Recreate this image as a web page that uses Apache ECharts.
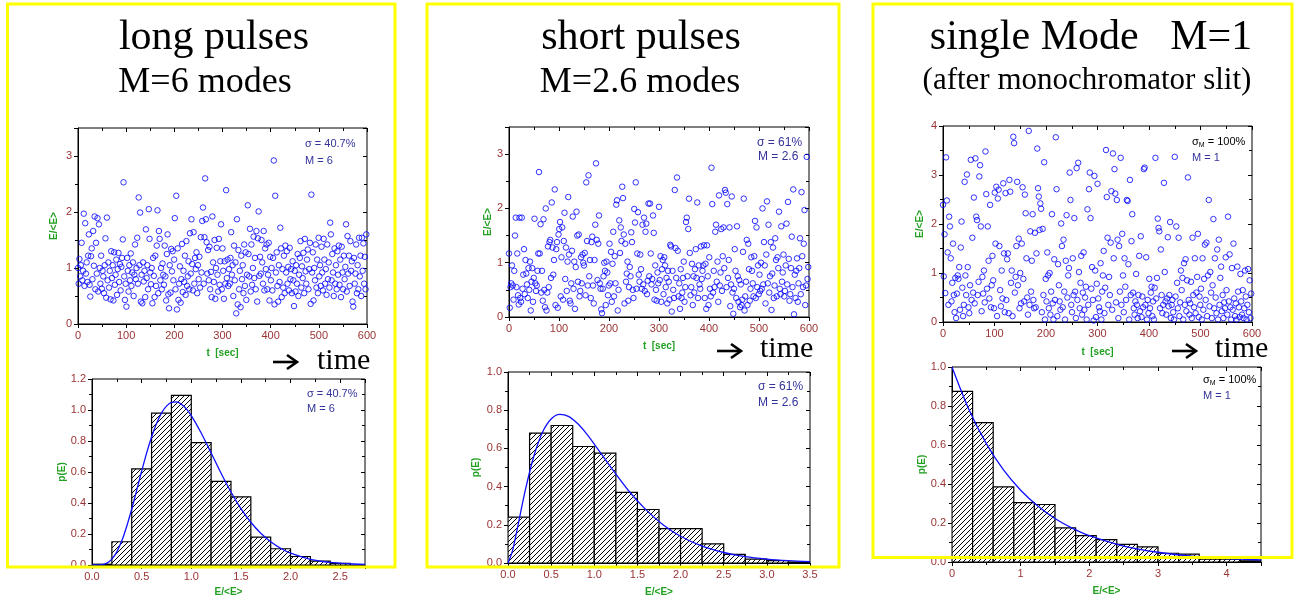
<!DOCTYPE html>
<html><head><meta charset="utf-8">
<script src="https://cdn.jsdelivr.net/npm/echarts@6/dist/echarts.min.js"></script>
<style>html,body{margin:0;padding:0;background:#fff}#c{width:1296px;height:602px}</style>
</head><body><div id="c"></div><script>
// ---------------- DATA ----------------
const sampleStep = 1.5; // seconds between plotted pulses
const longE = [
1.0,0.72,1.16,0.85,1.05,1.45,0.78,0.95,1.97,0.68,1.8,0.9,1.1,0.75,1.22,1.6,0.7,0.49,1.21,1.35,
0.8,1.66,1.04,1.92,0.62,1.45,0.9,1.89,0.58,1.78,1.0,0.72,1.22,0.63,0.95,0.85,0.55,1.05,1.53,0.47,
1.9,0.78,1.1,0.65,0.95,0.44,1.3,0.82,1.05,0.42,1.28,0.7,0.88,1.15,0.52,0.98,1.27,0.75,1.07,0.6,
1.02,1.18,1.51,2.53,0.85,0.43,0.72,0.31,1.18,0.95,0.58,1.05,0.78,1.26,0.68,0.92,1.1,0.5,0.88,1.42,
0.8,1.0,1.54,0.72,2.26,1.05,1.99,0.4,0.88,0.37,1.1,0.76,0.95,0.48,1.69,0.82,1.05,0.62,2.05,1.52,
0.92,0.71,1.0,0.37,1.18,0.86,0.48,1.22,0.68,1.4,2.03,0.55,1.66,1.52,0.78,1.0,0.62,1.08,0.88,0.7,
1.4,0.85,0.42,1.25,1.6,0.53,0.28,1.05,0.56,1.34,0.94,1.3,0.78,1.15,1.89,0.62,2.29,0.26,1.35,0.43,
0.72,1.03,0.38,0.8,1.43,0.57,0.95,0.75,1.22,0.52,1.48,0.68,0.85,1.12,0.62,1.62,0.9,1.87,1.07,0.6,
1.64,0.72,1.18,0.98,1.28,0.55,1.05,0.8,1.2,0.65,1.55,0.92,1.84,2.08,0.72,1.55,2.6,1.87,1.46,0.9,
1.32,0.78,1.38,0.62,0.93,0.48,1.92,1.1,0.75,1.5,0.45,1.0,1.36,0.88,0.58,1.52,0.7,1.12,1.78,0.62,
1.35,0.95,0.45,1.12,0.72,2.39,0.82,1.15,0.68,0.98,0.72,1.18,1.64,0.88,1.05,0.5,1.4,0.78,1.1,0.19,
1.87,0.35,1.32,0.62,0.95,0.3,1.22,0.8,1.05,0.55,1.42,0.68,1.28,0.43,0.88,2.12,1.25,0.85,1.7,0.58,
1.42,0.7,1.0,1.56,0.82,1.18,0.62,1.66,0.4,1.53,2.01,0.86,1.2,0.9,1.5,1.1,0.72,1.66,0.6,1.35,
0.98,1.42,0.62,0.88,1.45,0.42,1.2,0.78,1.0,0.6,1.18,2.92,0.35,2.29,0.92,1.28,0.68,0.4,1.05,0.75,
1.72,1.35,0.48,0.98,0.65,1.22,0.55,1.4,0.92,1.3,0.72,1.02,0.6,1.36,0.8,0.98,0.55,1.12,0.78,0.32,
0.95,0.58,1.05,0.72,1.25,0.5,0.88,1.18,1.48,0.65,1.03,0.82,1.27,0.55,1.52,0.94,0.72,1.15,1.33,0.62,
0.98,1.45,0.36,2.31,0.92,1.28,0.42,1.0,0.78,1.42,0.65,1.15,0.55,1.54,0.85,1.05,0.68,1.38,0.92,0.6,
1.52,1.15,0.72,0.98,0.52,1.42,0.8,1.1,0.65,1.81,1.6,0.78,1.25,0.92,0.5,1.35,0.72,1.05,0.62,1.3,
0.88,1.4,0.7,1.15,0.48,1.38,0.92,0.62,1.22,0.8,1.02,1.78,0.58,1.57,0.9,1.22,0.68,1.48,0.95,1.12,
0.4,0.31,1.18,0.72,0.9,1.42,0.55,1.05,0.62,1.54,0.85,1.22,0.5,1.54,0.95,1.44,0.72,1.2,0.62,1.6];
const shortE = [
1.17,0.17,0.55,0.62,0.95,0.58,0.32,0.85,1.5,1.83,0.55,1.17,0.4,0.23,1.83,0.35,0.28,1.83,0.52,0.78,
1.25,0.42,1.05,0.8,0.6,0.35,0.9,0.5,1.02,0.12,0.65,0.9,0.28,0.72,1.81,0.62,0.48,0.58,0.85,1.17,
2.67,1.17,1.71,0.45,0.85,0.3,1.8,0.5,0.18,2.0,0.12,0.45,1.3,0.55,1.38,1.42,0.72,2.11,1.28,0.78,
1.05,2.35,0.22,1.25,1.38,0.17,1.52,1.62,1.75,0.38,1.1,1.65,0.32,1.4,1.92,0.7,1.28,0.48,1.02,2.21,
1.15,0.3,0.25,0.62,1.22,1.85,0.52,1.02,0.15,0.92,1.94,1.5,0.65,1.52,0.38,0.48,1.1,0.62,1.15,1.0,
0.95,1.18,0.4,2.48,1.4,0.58,2.61,0.75,1.05,0.35,1.38,1.48,0.58,0.25,1.05,1.7,2.83,1.42,0.68,1.35,
1.87,0.62,0.52,0.14,0.07,0.52,0.75,1.0,0.85,0.22,1.02,0.82,0.4,0.58,1.35,0.62,1.2,0.28,0.98,1.57,
0.38,1.12,0.62,2.07,2.15,0.12,0.5,1.78,1.18,1.65,1.4,2.4,2.19,1.52,0.25,1.35,0.65,0.8,1.02,0.3,
0.55,0.92,0.75,1.56,1.38,0.5,0.35,1.99,1.74,2.48,0.52,1.17,1.93,0.78,0.65,1.15,0.88,0.52,1.7,0.6,
1.83,0.48,1.57,1.72,0.42,0.67,2.09,0.75,2.09,1.17,0.6,0.7,1.87,1.55,0.32,0.95,0.5,0.3,0.82,0.62,
2.03,0.68,1.12,0.28,0.88,1.05,0.42,1.1,0.95,0.55,0.72,0.25,0.85,0.65,0.32,1.33,1.3,0.1,0.85,0.5,
0.35,2.34,1.27,0.72,2.57,1.22,0.38,0.62,0.15,0.88,0.35,0.45,0.72,1.02,0.28,0.55,1.75,1.83,0.75,1.62,
2.18,1.18,0.4,0.55,0.98,0.22,0.75,0.45,0.88,1.25,0.72,2.11,0.35,0.95,0.6,0.52,1.3,0.7,0.85,0.95,
1.32,0.35,0.98,0.15,1.32,0.75,0.22,1.1,0.52,0.38,2.75,2.08,0.45,0.85,0.55,1.57,1.7,0.65,1.02,0.28,
2.24,0.58,0.82,1.62,0.48,1.12,1.65,0.9,2.34,2.29,0.55,2.08,0.72,1.05,1.65,0.2,0.6,2.22,0.45,0.06,
0.52,1.25,0.85,0.35,1.67,0.75,0.28,0.68,0.18,0.6,0.22,0.32,1.2,2.18,0.12,0.38,0.65,1.42,0.22,1.35,
0.88,0.3,0.52,1.1,0.85,0.62,0.38,1.12,1.77,0.35,1.65,0.55,0.95,0.42,0.78,0.48,1.0,0.52,2.0,0.6,
1.38,0.95,0.25,1.15,2.13,0.62,1.7,0.45,0.75,1.38,0.13,0.8,1.28,0.35,0.58,1.45,1.05,0.38,1.1,0.9,
1.94,0.52,0.42,1.67,0.65,0.82,1.15,0.38,0.48,0.95,1.72,0.6,2.12,1.07,0.3,0.42,0.9,1.48,0.55,2.35,
0.05,0.78,0.35,0.85,1.08,0.28,0.62,0.9,1.45,0.42,2.3,1.12,0.55,1.35,1.97,0.22,0.58,2.95,0.7,0.92];
const singleE = [
2.39,0.93,1.79,0.59,3.36,2.48,1.42,0.35,2.15,1.95,1.3,0.42,0.8,1.6,0.55,0.2,0.9,0.08,0.58,0.95,
0.88,1.12,0.25,1.52,2.05,0.7,0.12,0.35,2.86,0.95,0.55,3.01,1.12,0.3,0.18,0.75,3.31,0.45,1.72,0.6,
2.54,0.38,3.34,2.15,2.08,0.55,0.82,2.97,3.2,1.95,0.22,0.92,0.58,1.05,0.4,3.48,2.61,0.68,1.95,1.25,
0.48,2.39,0.3,0.75,1.35,0.85,0.28,2.64,1.6,2.76,0.12,2.52,2.7,1.55,0.65,0.32,1.05,0.48,2.83,1.4,
0.2,2.63,0.45,1.28,1.4,0.18,2.9,2.66,0.8,1.05,0.12,3.78,3.65,0.6,0.92,1.55,2.86,0.75,1.7,0.28,
1.0,0.38,1.6,2.75,0.88,0.42,2.6,2.22,1.3,0.5,0.15,3.9,0.35,1.85,0.62,1.25,2.2,0.45,0.28,1.82,
0.3,1.4,3.54,2.73,2.56,1.88,2.42,2.31,0.2,1.9,0.55,3.26,0.05,0.88,0.42,1.42,0.95,0.28,1.0,0.15,
0.62,2.2,0.38,0.05,1.28,0.45,3.77,2.71,0.12,1.18,0.75,0.42,0.25,2.01,1.55,0.3,1.68,0.62,0.05,1.25,
2.18,0.5,0.95,1.1,3.05,2.49,0.35,0.2,1.3,0.55,2.12,0.62,0.08,3.14,0.45,3.25,1.02,0.28,0.8,1.35,
0.15,0.6,1.42,0.25,0.5,0.72,0.05,2.3,0.35,2.71,3.05,2.12,0.68,1.12,0.45,0.03,2.98,1.05,0.1,0.78,
2.82,0.48,0.3,0.22,1.2,0.05,0.62,0.95,1.45,0.18,0.7,3.51,2.55,1.72,0.35,0.92,0.55,1.62,2.67,0.25,
3.44,1.3,3.12,2.62,0.4,2.49,1.68,0.08,1.55,0.62,3.35,0.35,1.8,0.95,0.2,1.3,0.72,0.45,2.49,2.47,
1.18,0.05,2.9,0.55,1.65,2.2,0.6,0.28,0.15,0.42,0.98,0.35,0.08,0.55,1.35,0.22,1.75,0.1,0.52,0.3,
3.12,3.15,0.35,1.32,0.05,0.45,0.18,0.88,0.28,0.6,0.72,0.12,0.42,0.05,0.7,3.35,0.48,0.9,2.11,1.92,
1.85,0.28,1.48,0.55,0.18,0.35,2.84,1.02,0.42,0.15,0.48,1.73,0.32,0.55,2.04,0.08,0.35,0.45,0.2,0.05,
3.37,0.52,1.95,0.8,0.28,1.72,0.12,0.4,1.05,0.65,0.9,0.05,1.2,0.35,1.28,0.22,0.85,2.95,0.45,0.15,
0.38,0.82,0.08,1.72,0.55,0.3,1.3,0.18,0.6,0.92,1.8,0.1,0.52,0.35,0.68,0.05,1.3,0.25,0.88,1.58,
0.45,1.62,0.12,0.95,2.49,0.32,1.02,0.6,0.08,0.75,2.1,0.28,1.3,0.5,0.18,1.48,0.05,1.68,0.35,0.9,
1.13,0.22,0.55,0.08,0.4,0.28,1.32,0.65,0.15,2.15,0.42,1.38,0.3,0.05,1.1,0.25,1.6,0.48,0.12,0.38,
0.05,1.13,0.62,0.3,0.1,0.98,0.42,0.15,0.65,0.08,0.28,1.05,0.52,0.05,0.35,1.08,0.2,0.85,0.08,0.58];

// histograms: bin left edges, bin width, heights
const hist1Lo = [0,0.2,0.4,0.6,0.8,1.0,1.2,1.4,1.6,1.8,2.0,2.2,2.4];
const hist1W = 0.2;
const hist1H = [0.005,0.15,0.62,0.98,1.095,0.79,0.54,0.44,0.18,0.105,0.055,0.025,0.01];
const hist2Lo = [0,0.25,0.5,0.75,1.0,1.25,1.5,1.75,2.0,2.25,2.5,2.75,3.0,3.25];
const hist2W = 0.25;
const hist2H = [0.24,0.68,0.72,0.61,0.575,0.37,0.28,0.18,0.18,0.10,0.045,0.02,0.012,0.005];
const hist3Lo = [0,0.3,0.6,0.9,1.2,1.5,1.8,2.1,2.4,2.7,3.0,3.3,3.6,3.9,4.2];
const hist3W = 0.3;
const hist3H = [0.875,0.715,0.385,0.305,0.295,0.175,0.135,0.115,0.09,0.078,0.045,0.04,0.015,0.015,0.006];

// fitted distribution curves (sampled)
const curve1X = [0,0.1,0.15,0.2,0.25,0.3,0.35,0.4,0.45,0.5,0.55,0.6,0.65,0.7,0.75,0.8,0.85,0.9,0.95,1.0,1.1,1.2,1.3,1.4,1.5,1.6,1.7,1.8,1.9,2.0,2.2,2.4,2.6,2.75];
const curve1Y = [0,0.002,0.012,0.038,0.085,0.156,0.250,0.361,0.482,0.605,0.722,0.826,0.913,0.980,1.025,1.049,1.052,1.037,1.007,0.964,0.852,0.723,0.592,0.471,0.364,0.276,0.205,0.150,0.108,0.076,0.037,0.017,0.008,0.004];
const curve2X = [0,0.05,0.1,0.2,0.3,0.4,0.5,0.6,0.7,0.8,0.9,1.0,1.2,1.4,1.6,1.8,2.0,2.25,2.5,2.75,3.0,3.25,3.5];
const curve2Y = [0,0.061,0.163,0.380,0.560,0.685,0.754,0.778,0.768,0.733,0.683,0.623,0.496,0.377,0.278,0.199,0.140,0.088,0.055,0.033,0.020,0.012,0.007];
const curve3X = [0,0.25,0.5,0.75,1,1.25,1.5,1.75,2,2.5,3,3.5,4,4.5];
const curve3Y = [1,0.779,0.607,0.472,0.368,0.287,0.223,0.174,0.135,0.082,0.050,0.030,0.018,0.011];

// ---------------- CHART ----------------
const hatch = document.createElement('canvas');
hatch.width = 5; hatch.height = 5;
(function(){
  const c = hatch.getContext('2d');
  c.fillStyle = '#fff'; c.fillRect(0,0,5,5);
  c.strokeStyle = '#000'; c.lineWidth = 1;
  c.beginPath();
  c.moveTo(-1,6); c.lineTo(6,-1);
  c.moveTo(-1,1); c.lineTo(1,-1);
  c.moveTo(4,6); c.lineTo(6,4);
  c.stroke();
})();
const hatchFill = {image: hatch, repeat: 'repeat'};

const RED = '#993333', GREEN = '#22a022', NAVY = '#333399', BLUE = '#1010ff';
const specs = [
  {g:{left:78,top:128,width:289,height:196}, x:[0,600,100,0], y:[0,3.5,1,0], xn:'t  [sec]', yn:'E/<E>', xg:24, yg:19},
  {g:{left:92,top:379,width:273,height:186}, x:[0,2.75,0.5,1], y:[0,1.2,0.2,1], xn:'E/<E>', yn:'p(E)', xg:22, yg:25},
  {g:{left:509,top:127,width:300,height:190}, x:[0,600,100,0], y:[0,3.5,1,0], xn:'t  [sec]', yn:'E/<E>', xg:24, yg:16},
  {g:{left:508,top:372,width:302,height:191}, x:[0,3.5,0.5,1], y:[0,1.0,0.2,1], xn:'E/<E>', yn:'p(E)', xg:24, yg:27},
  {g:{left:943,top:126,width:309,height:196}, x:[0,600,100,0], y:[0,4,1,0], xn:'t  [sec]', yn:'E/<E>', xg:25, yg:18},
  {g:{left:952,top:367,width:309,height:195}, x:[0,4.5,1,0], y:[0,1.0,0.2,1], xn:'E/<E>', yn:'p(E)', xg:24, yg:25}
];
const grid = [], xAxis = [], yAxis = [];
const lab = {color: RED, fontSize: 11, fontFamily: 'Liberation Sans, Arial, sans-serif'};
const nm = {color: GREEN, fontSize: 10, fontWeight: 'bold', fontFamily: 'Liberation Sans, Arial, sans-serif'};
function isMult(m, i){ const r = m / i; return Math.abs(r - Math.round(r)) < 1e-9; }
specs.forEach((s, i) => {
  grid.push(Object.assign({show:true, borderColor:'#000', borderWidth:1, backgroundColor:'transparent', containLabel:false}, s.g));
  const mk = (r, pos, main, name, gap) => ({
    type:'value', gridIndex:i, position:pos, min:r[0], max:r[1], interval:r[2],
    name: main ? name : '', nameLocation:'middle', nameGap:gap, nameTextStyle:nm,
    axisLine:{show:main, onZero:false, lineStyle:{color:'#000', width:1}},
    axisTick:{show:true, inside:!main, length:4, lineStyle:{color:'#000'}},
    minorTick:{show:true, splitNumber:2, length:3, lineStyle:{color:'#000'}},
    splitLine:{show:false},
    axisLabel:Object.assign({show:main, margin:6, showMaxLabel:isMult(r[1], r[2]),
      formatter: v => v.toFixed(r[3])}, lab)
  });
  xAxis.push(mk(s.x, 'bottom', true, s.xn, s.xg));
  xAxis.push(mk(s.x, 'top', false));
  yAxis.push(mk(s.y, 'left', true, s.yn, s.yg));
  yAxis.push(mk(s.y, 'right', false));
});

const series = [];
[longE, shortE, singleE].forEach((arr, k) => {
  series.push({
    type:'scatter', xAxisIndex:k*4, yAxisIndex:k*4,
    data: arr.map((v, i) => [i * sampleStep, v]),
    symbol:'circle', symbolSize:5.5,
    itemStyle:{color:'rgba(0,0,0,0)', borderColor:'#0000ff', borderWidth:1},
    silent:true
  });
});
function histRender(params, api){
  const a = api.coord([api.value(0), api.value(2)]);
  const b = api.coord([api.value(1), 0]);
  return {type:'rect', shape:{x:a[0], y:a[1], width:b[0]-a[0], height:b[1]-a[1]},
    style:{fill:hatchFill, stroke:'#000', lineWidth:1.2}};
}
[[hist1Lo,hist1W,hist1H,curve1X,curve1Y],[hist2Lo,hist2W,hist2H,curve2X,curve2Y],[hist3Lo,hist3W,hist3H,curve3X,curve3Y]].forEach((h, k) => {
  const ax = k*4 + 2;
  series.push({
    type:'custom', xAxisIndex:ax, yAxisIndex:ax, renderItem:histRender,
    encode:{x:[0,1], y:2}, clip:true,
    data: h[0].map((lo, i) => [lo, lo + h[1], h[2][i]])
  });
  series.push({
    type:'line', xAxisIndex:ax, yAxisIndex:ax, smooth:0.3, showSymbol:false, z:5,
    lineStyle:{color:BLUE, width:1.3}, data: h[3].map((x, i) => [x, h[4][i]])
  });
});

const serif = 'Liberation Serif, Times New Roman, serif';
const sans = 'Liberation Sans, Arial, sans-serif';
const T = (text, x, y, size, align, extra) => ({type:'text', z:50, style:Object.assign({text, x, y, font: size + 'px ' + serif, fill:'#000', textAlign:align || 'center', textVerticalAlign:'middle'}, extra || {})});
const A = (text, x, y, size) => ({type:'text', z:50, style:{text, x, y, font: size + 'px ' + sans, fill:NAVY, textAlign:'left', textVerticalAlign:'middle'}});
const SM = (x, y) => ({type:'text', z:50, style:{x, y, textVerticalAlign:'middle', text:'{s|σ}{b|M}{s| = 100%}',
  rich:{s:{fontSize:11, fontFamily:sans, color:NAVY}, b:{fontSize:7, fontFamily:sans, color:NAVY, padding:[6,0,0,0]}}}});
// "→" drawn as a decorative arrow (shaft + head)
const arrow = (x, y) => ({type:'group', z:50, children:[
  {type:'line', z:50, shape:{x1:x, y1:y, x2:x+23, y2:y}, style:{stroke:'#000', lineWidth:2.6}},
  {type:'polyline', z:50, shape:{points:[[x+14,y-7],[x+24,y],[x+14,y+7]]}, style:{stroke:'#000', lineWidth:2.6, fill:'none', lineJoin:'miter'}}
]});
const box = (x, y, w, h) => ({type:'rect', z:100, shape:{x, y, width:w, height:h}, style:{fill:'none', stroke:'#ffff00', lineWidth:3}});

const graphic = [
  box(7.5, 4, 387.5, 563), box(427, 4, 412, 563), box(873, 4, 419, 553.5),
  T('long pulses', 214, 38, 42), T('M=6 modes', 205, 83, 36),
  T('short pulses', 641, 38, 42), T('M=2.6 modes', 640, 83, 36),
  T('single Mode   M=1', 1091, 38, 42), T('(after monochromator slit)', 1087, 81, 31),
  arrow(273, 362), T('time', 317, 361, 30, 'left'),
  arrow(717, 351), T('time', 760, 349, 30, 'left'),
  arrow(1172, 351), T('time', 1215, 349, 30, 'left'),
  A('σ = 40.7%', 305, 144, 11), A('M = 6', 305, 161, 11),
  A('σ = 40.7%', 307, 394, 11), A('M = 6', 307, 409, 11),
  A('σ = 61%', 757, 143, 12), A('M = 2.6', 758, 157, 12),
  A('σ = 61%', 758, 387, 12), A('M = 2.6', 758, 403, 12),
  SM(1192, 142), A('M = 1', 1192, 158, 11),
  SM(1203, 380), A('M = 1', 1203, 396, 11)
];

const chart = echarts.init(document.getElementById('c'), null, {renderer:'canvas'});
chart.setOption({animation:false, backgroundColor:'#fff', grid, xAxis, yAxis, series, graphic});
</script></body></html>
